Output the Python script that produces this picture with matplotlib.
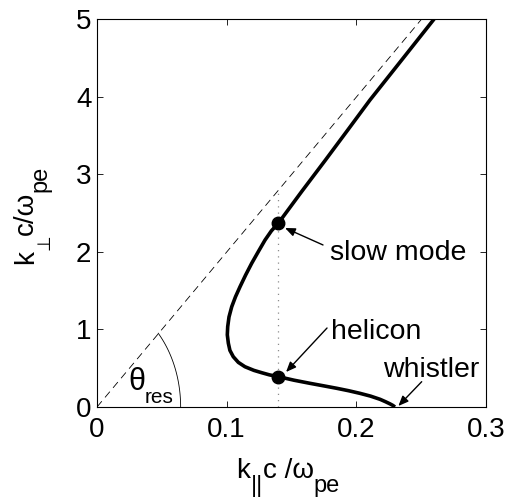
import numpy as np
import matplotlib
matplotlib.use("Agg")
import matplotlib.pyplot as plt

plt.rcParams['font.family'] = ['Liberation Sans', 'DejaVu Sans']
plt.rcParams['mathtext.fontset'] = 'custom'
plt.rcParams['mathtext.rm'] = 'Liberation Sans'
plt.rcParams['mathtext.it'] = 'Liberation Sans'

# dispersion curve (k_par, k_perp)
k_par = [0.2298, 0.2282, 0.2260, 0.2225, 0.2183, 0.2110, 0.2028, 0.1940,
         0.1849, 0.1750, 0.1643, 0.1520, 0.1399, 0.1330, 0.1270, 0.1210,
         0.1141, 0.1090, 0.1051, 0.1025, 0.1013, 0.1005, 0.1008, 0.1018,
         0.1039, 0.1068, 0.1103, 0.1146, 0.1193, 0.1245, 0.1296, 0.1345,
         0.1399, 0.1580, 0.1762, 0.1935, 0.2105, 0.2350, 0.2600]
k_perp = [0.000, 0.020, 0.040, 0.068, 0.099, 0.140, 0.176, 0.210,
          0.241, 0.272, 0.305, 0.345, 0.391, 0.414, 0.442, 0.472,
          0.519, 0.575, 0.648, 0.730, 0.821, 0.930, 1.035, 1.160,
          1.292, 1.420, 1.550, 1.700, 1.852, 2.005, 2.152, 2.270,
          2.370, 2.780, 3.183, 3.572, 3.956, 4.472, 5.000]

# marked modes (helicon, slow mode)
mode_par = [0.1399, 0.1399]
mode_perp = [0.391, 2.370]

# resonance cone line
cone_par = [0.0, 0.2504]
cone_perp = [0.0, 5.0]

dotted_par = [0.1399, 0.1399]
dotted_perp = [0.0, 2.79]

xticks = [0, 0.1, 0.2, 0.3]
xticklabels = ['0', '0.1', '0.2', '0.3']
yticks = [0, 1, 2, 3, 4, 5]

W, H = 508, 501
fig = plt.figure(figsize=(W/100, H/100), dpi=100)
ax = fig.add_axes([97/W, 94/H, 389/W, 388/H])

ax.plot(cone_par, cone_perp, color='black', lw=0.6, ls=(0, (9, 6)))
ax.plot(dotted_par, dotted_perp, color='0.55', lw=0.9, ls=(0, (1, 4)))
ax.plot(k_par, k_perp, color='black', lw=2.6, solid_capstyle='butt',
        solid_joinstyle='round')
ax.plot(mode_par, mode_perp, 'o', color='black', ms=9)

# angle arc
t = np.linspace(0, np.arctan2(73.7/108, 61.3/83.7), 60)
ax.plot(0.0645*np.cos(t), 1.395*np.sin(t), color='black', lw=0.6)
ax.text(0.0240, 0.219, '\u03b8', fontsize=22, ha='left', va='baseline')
ax.text(0.0370, 0.048, 'res', fontsize=15, ha='left', va='baseline')

fs = 20
afs = 20.5
arrow = dict(arrowstyle='-|>,head_length=0.6,head_width=0.25', color='black',
             lw=1.0, shrinkA=0, shrinkB=0)
ax.annotate('', xy=(0.145, 2.307), xytext=(0.1743, 2.088), arrowprops=arrow)
ax.text(0.1797, 1.98, 'slow mode', fontsize=afs, ha='left', va='center')
ax.annotate('', xy=(0.1458, 0.451), xytext=(0.1774, 1.018), arrowprops=arrow)
ax.text(0.1802, 0.97, 'helicon', fontsize=afs, ha='left', va='center')
ax.annotate('', xy=(0.2324, 0.013), xytext=(0.2504, 0.326), arrowprops=arrow)
ax.text(0.2208, 0.477, 'whistler', fontsize=afs, ha='left', va='center')

ax.set_xlim(0, 0.3)
ax.set_ylim(0, 5)
ax.set_xticks(xticks)
ax.set_xticklabels(xticklabels)
ax.set_yticks(yticks)
ax.tick_params(direction='in', length=4, width=0.6, top=True, right=True,
               labelsize=fs)
ax.tick_params(axis='x', pad=7)
ax.tick_params(axis='y', pad=4)
for s in ax.spines.values():
    s.set_linewidth(0.8)

# x label: k_|| c /omega_pe with full-size lowered subscripts
xbase = (H - 478.3) / H
prev = fig.text(236.5/W, xbase, 'k', fontsize=20, ha='left', va='baseline')
for txt, size, dy in [('||', 17, -10), ('c /\u03c9', 20, 0), ('pe', 17, -9.6)]:
    prev = ax.annotate(txt, xy=(1, xbase), xycoords=(prev, 'figure fraction'),
                       xytext=(0, dy), textcoords='offset points',
                       fontsize=size, ha='left', va='baseline',
                       annotation_clip=False)

# y label: k_perp c/omega_pe, rotated
ybase = 33 / W
prev = fig.text(ybase, (H - 264.5)/H, 'k', fontsize=20, rotation=90,
                rotation_mode='anchor', ha='left', va='baseline')
for txt, size, dx in [('\u22a5', 13, 12), ('c/\u03c9', 20, 0), ('pe', 17, 10)]:
    prev = ax.annotate(txt, xy=(ybase, 1), xycoords=('figure fraction', prev),
                       xytext=(dx, 0), textcoords='offset points',
                       fontsize=size, rotation=90, rotation_mode='anchor',
                       ha='left', va='baseline', annotation_clip=False)

fig.savefig('out.png', dpi=100)
